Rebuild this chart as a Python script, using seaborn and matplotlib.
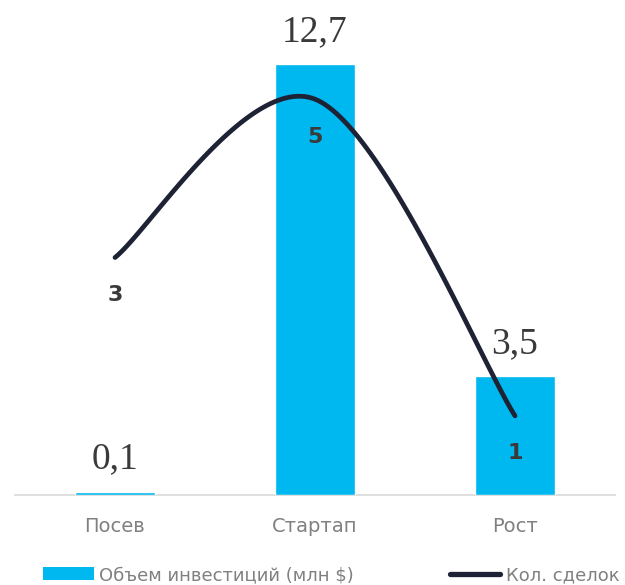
import numpy as np
import pandas as pd
import matplotlib
matplotlib.use("Agg")
import matplotlib.pyplot as plt
from matplotlib.patches import Patch
from matplotlib.lines import Line2D
import seaborn as sns

# Data
stages = ["Посев", "Стартап", "Рост"]
investment = [0.1, 12.7, 3.5]          # млн $
deals = [3, 5, 1]                       # количество сделок
investment_labels = ["0,1", "12,7", "3,5"]
deal_labels = ["3", "5", "1"]

BAR_COLOR = "#00B8F0"
LINE_COLOR = "#1E2235"
LABEL_GRAY = "#808080"
TEXT_DARK = "#3A3A3A"

sns.set_theme(style="white")
plt.rcParams["font.family"] = ["DejaVu Sans"]

fig = plt.figure(figsize=(6.25, 5.85), dpi=100)
ax = fig.add_axes([0.024, 0.1538, 0.96, 0.812])

df = pd.DataFrame({"stage": stages, "investment": investment})
sns.barplot(data=df, x="stage", y="investment", color=BAR_COLOR,
            saturation=1, width=0.4, ax=ax, zorder=3)
ax.set_xlim(-0.5, 2.5)
ax.set_ylim(0, 14)
ax.set_xlabel("")
ax.set_ylabel("")
ax.set_yticks([])
for s in ["top", "right", "left"]:
    ax.spines[s].set_visible(False)
ax.spines["bottom"].set_color("#D9D9D9")
ax.spines["bottom"].set_linewidth(1.2)
ax.spines["bottom"].set_zorder(1)
ax.tick_params(axis="x", length=0, pad=16, labelsize=14, labelcolor=LABEL_GRAY)

# Value labels above bars
for i, (v, lab) in enumerate(zip(investment, investment_labels)):
    ax.annotate(lab, (i, v), xytext=(0, 11), textcoords="offset points",
                ha="center", va="bottom", fontsize=27,
                family="Liberation Serif", color=TEXT_DARK)

# Secondary axis: number of deals, drawn as a smoothed curve
ax2 = ax.twinx()
ax2.set_ylim(0, 6)
ax2.set_yticks([])
for s in ax2.spines.values():
    s.set_visible(False)

xs = np.arange(len(deals), dtype=float)
ys = np.asarray(deals, dtype=float)
pts = np.column_stack([xs, ys])
curve = []
n = len(pts)
for k in range(n - 1):
    p0 = pts[max(k - 1, 0)]
    p1 = pts[k]
    p2 = pts[k + 1]
    p3 = pts[min(k + 2, n - 1)]
    c1 = p1 + (p2 - p0) / 6.0
    c2 = p2 - (p3 - p1) / 6.0
    t = np.linspace(0, 1, 60)[:, None]
    seg = ((1 - t) ** 3) * p1 + 3 * ((1 - t) ** 2) * t * c1 \
        + 3 * (1 - t) * t ** 2 * c2 + t ** 3 * p2
    curve.append(seg if k == 0 else seg[1:])
curve = np.vstack(curve)
ax2.plot(curve[:, 0], curve[:, 1], color=LINE_COLOR, lw=3.4,
         solid_capstyle="round")

for i, (v, lab) in enumerate(zip(deals, deal_labels)):
    ax2.annotate(lab, (i, v), xytext=(0, -27), textcoords="offset points",
                 ha="center", va="center", fontsize=16, fontweight="bold",
                 color=TEXT_DARK)

handles = [Patch(facecolor=BAR_COLOR, edgecolor="none"),
           Line2D([0], [0], color=LINE_COLOR, lw=3.8, solid_capstyle="round")]
fig.legend(handles, ["Объем инвестиций (млн $)", "Кол. сделок"],
           loc="center", bbox_to_anchor=(0.53, 0.017), ncol=2, frameon=False,
           fontsize=13, labelcolor=LABEL_GRAY, handlelength=2.8,
           handletextpad=0.3, columnspacing=5.3, borderaxespad=0)

fig.savefig("out.png", dpi=100)
